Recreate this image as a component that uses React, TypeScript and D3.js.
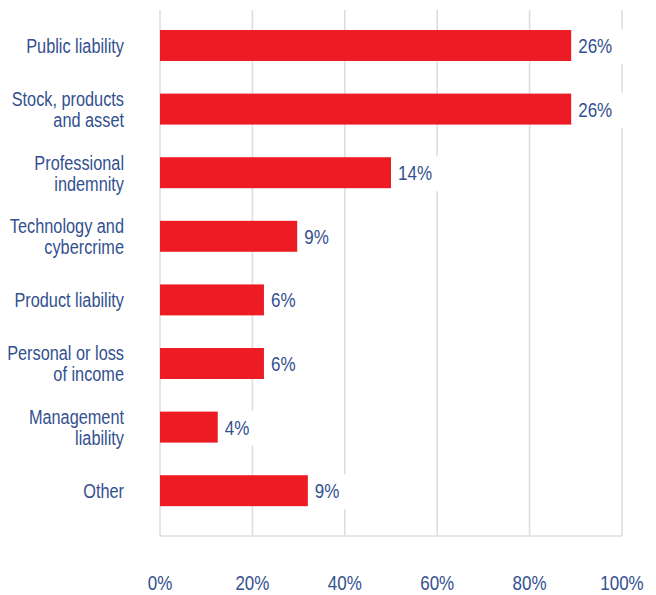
import React from "react";
import * as d3 from "d3";

const categories: string[][] = [
  ["Public liability"],
  ["Stock, products", "and asset"],
  ["Professional", "indemnity"],
  ["Technology and", "cybercrime"],
  ["Product liability"],
  ["Personal or loss", "of income"],
  ["Management", "liability"],
  ["Other"],
];
const barValues = [89, 89, 50, 29.7, 22.5, 22.5, 12.5, 32];
const valueLabels = ["26%", "26%", "14%", "9%", "6%", "6%", "4%", "9%"];
const xTicks = [0, 20, 40, 60, 80, 100];

const W = 656;
const H = 595;
const FONT = "'Liberation Sans', Arial, sans-serif";
const BLUE = "#33508F";
const RED = "#ED1C24";
const GRID = "#DEDEDE";
const CAT_SX = 0.815;
const NUM_SX = 0.85;

const numWidth = (s: string) =>
  s.split("").reduce((a, c) => a + (c === "%" ? 17.78 : 11.12), 0) * NUM_SX;

export default function App() {
  const x = d3.scaleLinear().domain([0, 100]).range([160, 622]);
  const idx = categories.map((_, i) => String(i));
  const y = d3.scaleBand<string>().domain(idx).range([13.7, 522.5]).paddingInner(0.513).paddingOuter(0.2565);
  const bw = y.bandwidth();
  const gridTop = 10;
  const gridBottom = 536;
  const fs = 20;

  return (
    <svg width={W} height={H} style={{ position: "absolute", left: 0, top: 0, background: "#fff" }}>
      <rect x={0} y={0} width={W} height={H} fill="#fff" />
      {xTicks.map((t) => (
        <line key={"g" + t} x1={x(t)} x2={x(t)} y1={gridTop} y2={gridBottom} stroke={GRID} strokeWidth={1.6} />
      ))}
      <line x1={x(0)} x2={x(100)} y1={gridBottom} y2={gridBottom} stroke={GRID} strokeWidth={1.6} />
      {barValues.map((v, i) => {
        const yc = (y(String(i)) as number) + bw / 2;
        return (
          <g key={"b" + i}>
            <rect x={x(0)} y={y(String(i))} width={x(v) - x(0)} height={bw} fill={RED} />
            <rect x={x(v) + 1} y={yc - 16.5} width={numWidth(valueLabels[i]) + 18} height={35} fill="#fff" />
            <g transform={`translate(${x(v) + 7},${yc + 7.5}) scale(${NUM_SX},1)`}>
              <text x={0} y={0} fontFamily={FONT} fontSize={fs} fill={BLUE}>
                {valueLabels[i]}
              </text>
            </g>
          </g>
        );
      })}
      {categories.map((lines, i) => {
        const yc = (y(String(i)) as number) + bw / 2;
        const lh = 21;
        const first = yc + 7.5 - ((lines.length - 1) * lh) / 2;
        return (
          <g key={"c" + i} transform={`translate(124,0) scale(${CAT_SX},1)`}>
            <text x={0} textAnchor="end" fontFamily={FONT} fontSize={fs} fill={BLUE}>
              {lines.map((l, j) => (
                <tspan key={j} x={0} y={first + j * lh}>
                  {l}
                </tspan>
              ))}
            </text>
          </g>
        );
      })}
      {xTicks.map((t) => (
        <g key={"t" + t} transform={`translate(${x(t)},590) scale(${NUM_SX},1)`}>
          <text x={0} y={0} textAnchor="middle" fontFamily={FONT} fontSize={fs} fill={BLUE}>
            {t + "%"}
          </text>
        </g>
      ))}
    </svg>
  );
}
